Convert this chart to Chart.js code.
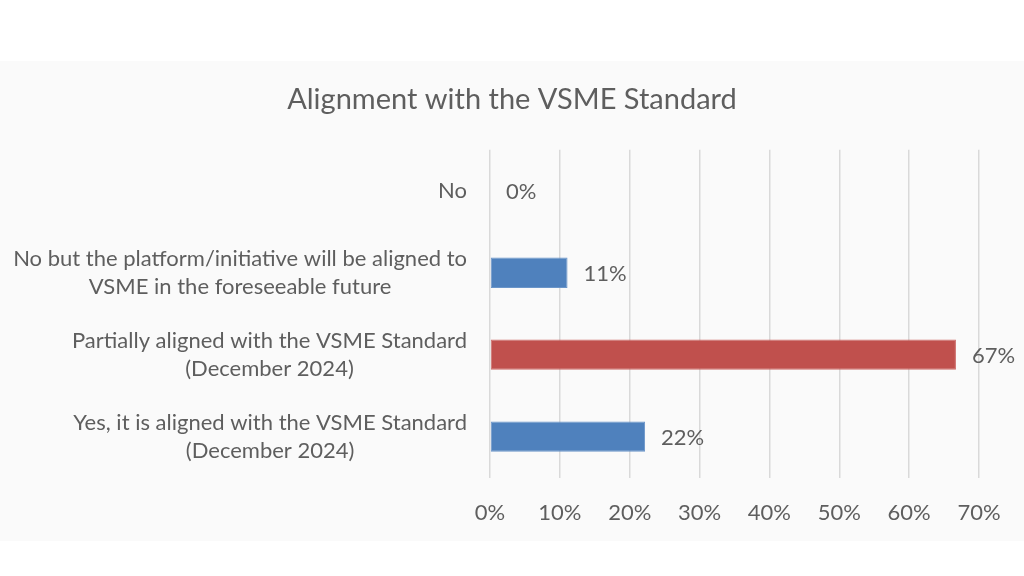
<!DOCTYPE html>
<html lang="en">
<head>
    <meta charset="UTF-8" />
    <title>Alignment with the VSME Standard</title>
    <script src="https://cdn.jsdelivr.net/npm/chart.js"></script>
    <style>
        html, body { margin: 0; padding: 0; background: #ffffff; }
        .band {
            position: absolute;
            left: 0; top: 61px;
            width: 1024px; height: 480px;
            background: #fafafa;
        }
        .wrap {
            position: absolute;
            left: 0; top: 0;
            width: 1024px; height: 576px;
        }
    </style>
</head>
<body>
    <div class="band"></div>
    <div class="wrap"><canvas id="chart" width="1024" height="576"></canvas></div>

    <script>
        // data
        const categories = [
            ["No"],
            ["No but the platform/initiative will be aligned to", "VSME in the foreseeable future"],
            ["Partially aligned with the VSME Standard", "(December 2024)"],
            ["Yes, it is aligned with the VSME Standard", "(December 2024)"]
        ];
        const shares = [0, 11.1, 66.7, 22.2];
        const barColors = ["#4F81BD", "#4F81BD", "#C0504D", "#4F81BD"];
        const barEdges = ["#6a95c9", "#6a95c9", "#cd6b68", "#6a95c9"];
        const xTicks = [0, 10, 20, 30, 40, 50, 60, 70];

        const textColor = "#5e5e5e";
        const fontFamily = "Lato, 'Open Sans', sans-serif";

        // category labels: block right-aligned, lines centred inside the block (Excel style)
        const categoryLabels = {
            id: "categoryLabels",
            afterDraw(chart) {
                const ctx = chart.ctx;
                const y = chart.scales.y;
                const right = chart.chartArea.left - 23;
                const lineH = 28;
                ctx.save();
                ctx.font = "22px " + fontFamily;
                ctx.fillStyle = textColor;
                ctx.textAlign = "center";
                ctx.textBaseline = "middle";
                categories.forEach((lines, i) => {
                    const w = Math.max(...lines.map(l => ctx.measureText(l).width));
                    const cx = right - w / 2;
                    const cy = y.getPixelForValue(i);
                    const top = cy - (lines.length - 1) * lineH / 2;
                    lines.forEach((l, j) => ctx.fillText(l, cx, top + j * lineH));
                });
                ctx.restore();
            }
        };

        // value labels at bar ends
        const valueLabels = {
            id: "valueLabels",
            afterDatasetsDraw(chart) {
                const ctx = chart.ctx;
                const meta = chart.getDatasetMeta(0);
                ctx.save();
                ctx.font = "22px " + fontFamily;
                ctx.fillStyle = textColor;
                ctx.textAlign = "left";
                ctx.textBaseline = "middle";
                meta.data.forEach((bar, i) => {
                    ctx.fillText(Math.round(shares[i]) + "%", bar.x + 16, bar.y + 1);
                });
                ctx.restore();
            }
        };

        new Chart(document.getElementById("chart"), {
            type: "bar",
            data: {
                labels: categories.map(c => c.join(" ")),
                datasets: [{
                    data: shares,
                    backgroundColor: barColors,
                    borderColor: barEdges,
                    borderWidth: 1,
                    borderSkipped: false,
                    barPercentage: 0.37,
                    categoryPercentage: 1
                }]
            },
            options: {
                indexAxis: "y",
                responsive: false,
                animation: false,
                layout: { padding: { left: 45, right: 45, top: 0, bottom: 28 } },
                plugins: {
                    legend: { display: false },
                    tooltip: { enabled: false },
                    title: {
                        display: true,
                        text: "Alignment with the VSME Standard",
                        color: textColor,
                        font: { family: fontFamily, size: 29, weight: "normal" },
                        padding: { top: 82, bottom: 33 }
                    }
                },
                scales: {
                    x: {
                        min: 0,
                        max: 70,
                        afterBuildTicks(scale) {
                            scale.ticks = xTicks.map(v => ({ value: v }));
                        },
                        ticks: {
                            color: textColor,
                            font: { family: fontFamily, size: 22 },
                            padding: 22,
                            callback: v => v + "%"
                        },
                        grid: { color: "#d9d9d9", lineWidth: 1.5, drawTicks: false },
                        border: { display: false }
                    },
                    y: {
                        ticks: { display: false },
                        grid: { display: false },
                        border: { display: false },
                        afterFit(scale) { scale.width = 445; }
                    }
                }
            },
            plugins: [categoryLabels, valueLabels]
        });
    </script>
</body>
</html>
